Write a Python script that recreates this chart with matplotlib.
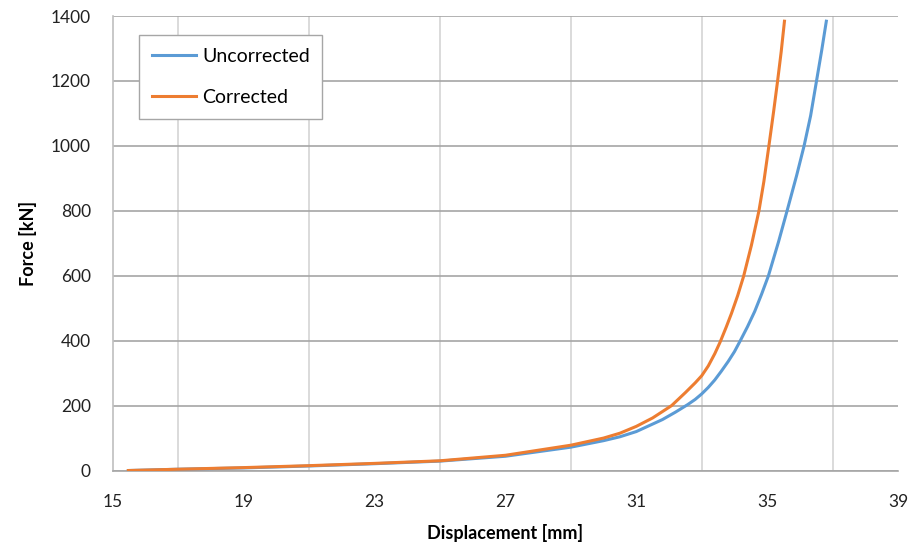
import matplotlib.pyplot as plt
from matplotlib.ticker import FixedLocator

# Force-displacement readings
disp_uncorrected = [15.47, 17.0, 19.0, 21.0, 23.0, 25.0, 27.0, 29.0, 30.0, 30.5,
                    31.0, 31.8, 32.2, 32.57, 32.8, 33.0, 33.2, 33.4, 33.6,
                    33.81, 34.0, 34.18, 34.4, 34.62, 34.83, 35.04, 35.35,
                    35.61, 35.9, 36.13, 36.33, 36.51, 36.67, 36.81]
force_uncorrected = [0, 4, 8, 14, 21, 29, 44, 72, 92, 104,
                     120, 157, 180, 203, 219, 236, 256, 279, 306,
                     336, 366, 400, 443, 490, 543, 600, 705,
                     800, 908, 1000, 1093, 1200, 1295, 1384]

disp_corrected = [15.47, 17.0, 19.0, 21.0, 23.0, 25.0, 27.0, 29.0, 30.0, 30.5,
                  31.0, 31.5, 32.08, 32.5, 32.8, 33.0, 33.2, 33.4, 33.56,
                  33.75, 33.91, 34.1, 34.28, 34.52, 34.75, 34.9, 35.05,
                  35.2, 35.32, 35.43, 35.53]
force_corrected = [0, 4, 9, 15, 22, 30, 47, 78, 100, 115,
                   136, 162, 200, 240, 270, 292, 322, 360, 395,
                   442, 484, 539, 598, 694, 800, 890, 997,
                   1107, 1200, 1290, 1384]

x_ticks = [15, 19, 23, 27, 31, 35, 39]
x_grid = [17, 19, 21, 23, 25, 27, 29, 31, 33, 35, 37, 39]
y_ticks = [0, 200, 400, 600, 800, 1000, 1200, 1400]

plt.rcParams['font.family'] = ['Lato', 'DejaVu Sans']

fig = plt.figure(figsize=(9.12, 5.5), dpi=100)
ax = fig.add_axes([0.1239, 0.1445, 0.8607, 0.8264])

ax.plot(disp_uncorrected, force_uncorrected, color="#5B9BD5", lw=2.2,
        label="Uncorrected", zorder=3)
ax.plot(disp_corrected, force_corrected, color="#ED7D31", lw=2.2,
        label="Corrected", zorder=4)

ax.set_xlim(15, 39)
ax.set_ylim(0, 1400)
ax.set_xticks(x_ticks)
ax.set_yticks(y_ticks)
ax.xaxis.set_minor_locator(FixedLocator(x_grid))

# light vertical grid every 2 mm, darker horizontal grid
ax.grid(axis="x", which="minor", color="#d4d4d4", lw=1.2, zorder=0)
ax.grid(axis="x", which="major", visible=False)
ax.grid(axis="y", which="major", color="#a6a6a6", lw=1.2, zorder=0)

for side in ["top", "right"]:
    ax.spines[side].set_visible(False)
ax.spines["left"].set_color("#bfbfbf")
ax.spines["bottom"].set_color("#a6a6a6")
ax.spines["left"].set_linewidth(1.2)
ax.spines["bottom"].set_linewidth(1.2)

ax.tick_params(which="both", length=0, labelsize=12.5, colors="#222222")
ax.tick_params(axis="y", pad=16)
ax.tick_params(axis="x", pad=17)

ax.set_xlabel("Displacement [mm]", fontsize=13, fontweight="bold", labelpad=10)
ax.set_ylabel("Force [kN]", fontsize=13, fontweight="bold", labelpad=10)

leg = ax.legend(loc="upper left", bbox_to_anchor=(0.033, 0.958), fontsize=14,
                frameon=True, fancybox=False, edgecolor="#a6a6a6", framealpha=1,
                handlelength=2.3, handletextpad=0.3, labelspacing=1.25,
                borderpad=0.65, borderaxespad=0)
leg.get_frame().set_linewidth(1.0)

fig.savefig("out.png", dpi=100)
